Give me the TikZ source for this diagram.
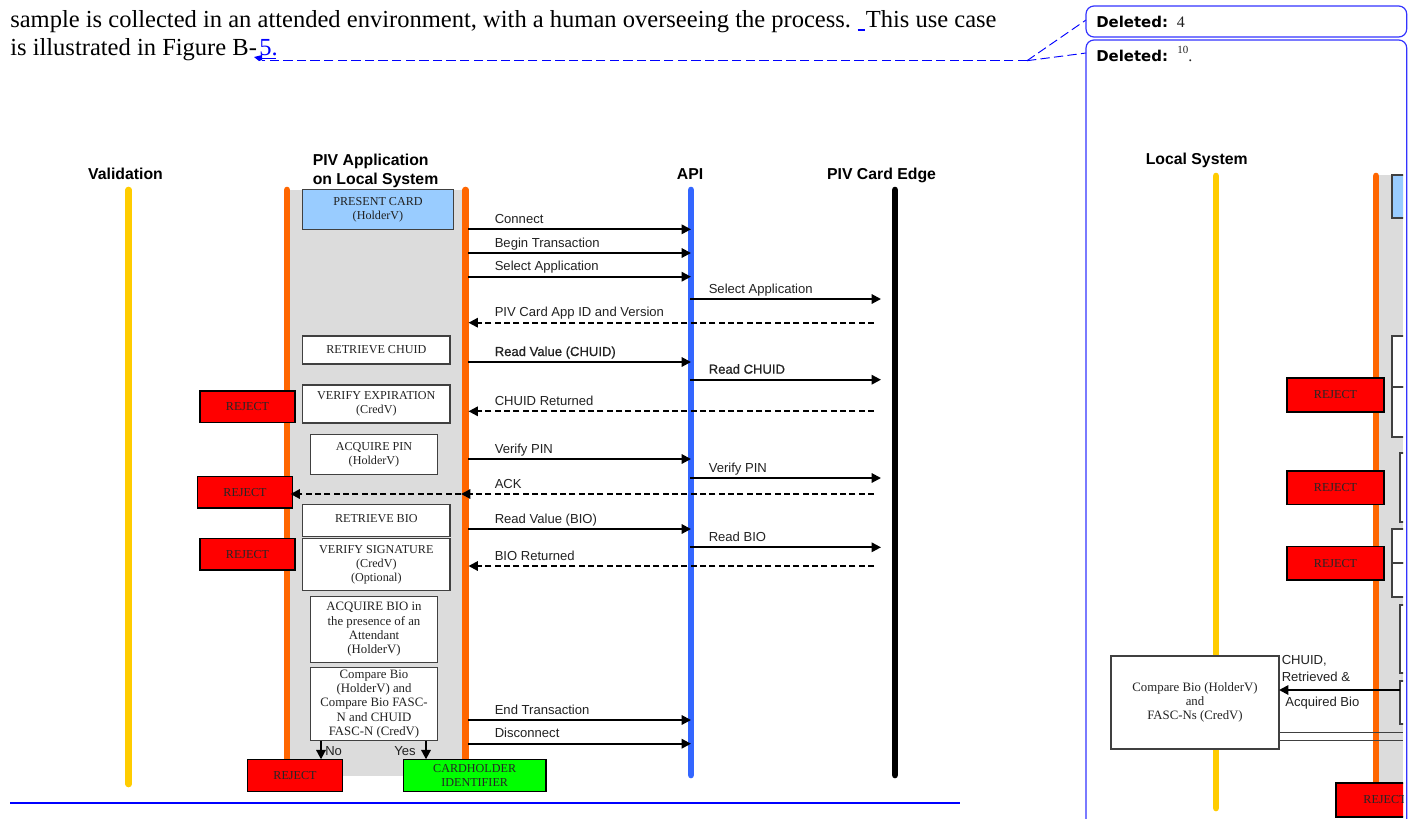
\documentclass[tikz,border=0pt]{standalone}
\usepackage{fontspec}
\setmainfont{Liberation Serif}
\setsansfont{Liberation Sans}
\newfontfamily\dblfont[FakeBold=0.6]{Liberation Sans}
\newfontfamily\delfont{DejaVu Sans}
\usetikzlibrary{arrows.meta}
\definecolor{cgray}{HTML}{DCDCDC}
\definecolor{cyel}{HTML}{FFCC00}
\definecolor{cora}{HTML}{FF6600}
\definecolor{cblu}{HTML}{3366FF}
\definecolor{csky}{HTML}{99CCFF}
\definecolor{cbal}{HTML}{3333FF}
\definecolor{cedge}{HTML}{404040}
\definecolor{cink}{HTML}{222222}
\definecolor{cgrn}{HTML}{00FF00}
\newcommand{\mixedcase}{\fontsize{9.6}{10.8}\selectfont}
\tikzset{
  x=0.75pt,y=-0.75pt,
  lifeline/.style={line width=5pt,line cap=round},
  stepbox/.style={draw=cedge,line width=0.8pt,fill=white,text=cink,align=center,inner sep=0pt,
     font=\fontsize{9.1}{10.7}\selectfont},
  mixedbox/.style={stepbox,font=\mixedcase},
  bluebox/.style={stepbox,fill=csky},
  rejectbox/.style={draw=black,line width=0.8pt,fill=red,text=black!85,align=center,inner sep=0pt,
     font=\fontsize{9.1}{10.7}\selectfont},
  greenbox/.style={rejectbox,fill=cgrn},
  msg/.style={draw=black,line width=1.5pt,-{Triangle[length=7pt,width=7pt]}},
  ret/.style={msg,dash pattern=on 4.6pt off 2.4pt},
  lbl/.style={anchor=base west,inner sep=0pt,text=cink,font=\sffamily\fontsize{9.8}{11}\selectfont},
  head/.style={anchor=base,inner sep=0pt,text=black,align=center,font=\sffamily\bfseries\fontsize{11.85}{14.3}\selectfont},
  body/.style={anchor=base west,inner sep=0pt,text=black,font=\fontsize{18.4}{20}\selectfont},
  balloon/.style={draw=cbal,line width=0.9pt,rounded corners=6pt},
  ballink/.style={draw=blue,line width=0.7pt,dash pattern=on 7pt off 3.2pt},
  deltag/.style={anchor=base west,inner sep=0pt,font=\delfont\bfseries\fontsize{11.2}{13}\selectfont},
  delval/.style={anchor=base west,inner sep=0pt,text=cink,font=\fontsize{12}{14}\selectfont},
}
\newcommand{\boxnode}[7]{%
  \pgfmathsetmacro{\bw}{(#5-#3)*0.75}%
  \pgfmathsetmacro{\bh}{(#6-#4)*0.75}%
  \pgfmathsetmacro{\bx}{(#3+#5)/2}%
  \pgfmathsetmacro{\by}{(#4+#6)/2}%
  \node[#2,minimum width=\bw pt,minimum height=\bh pt] (#1) at (\bx,\by) {#7};}
\newcommand{\seqmsg}[7]{% name style x0 x1 y labelx text
  \coordinate (#1a) at (#3,#5);
  \coordinate (#1b) at (#4,#5);
  \draw[#2] (#1a) -- (#1b);
  \pgfmathsetmacro{\ly}{#5-6}%
  \node[lbl] (#1t) at (#6,\ly) {#7};}
\begin{document}
\begin{tikzpicture}
\useasboundingbox (0,0) rectangle (1408,818);
\fill[white] (0,0) rectangle (1408,818);
% body text
\node[body] (l1) at (10,27) {sample is collected in an attended environment, with a human overseeing the process.};
\node[body] (l1b) at (865.5,27) {This use case};
\node[body] (l2) at (10,55) {is illustrated in Figure B-};
\node[body,text=blue] (five) at (259,55) {5.};
\draw[blue,line width=1pt] (259,58.5) -- (276,58.5);
\draw[blue,line width=1pt] (857.5,30) -- (865,30);
\coordinate (inkA) at (262,60.7);
\coordinate (inkB) at (1027,60.7);
\coordinate (inkC) at (1086,20);
\coordinate (inkD) at (1086,53);
\fill[blue] (254,57) -- (262,55) -- (262,60) -- (259,61) -- cycle;
\draw[ballink] (inkB) -- (inkA);
\draw[ballink] (inkB) -- (inkC);
\draw[ballink] (inkB) -- (inkD);
% balloons
\draw[balloon] (1086,6) rectangle (1406.7,37);
\draw[balloon] (1086,40) -- (1086,840) -- (1406.7,840) -- (1406.7,40) -- cycle;
\node[deltag] (del1) at (1096,27) {Deleted:};
\node[delval] (del1v) at (1176.5,27) {4};
\node[deltag] (del2) at (1096,61) {Deleted:};
\node[delval,font=\fontsize{8.2}{10}\selectfont] (del2v) at (1177,53) {10};
\node[delval] (del2d) at (1188,61) {.};
% main figure
\fill[cgray] (290,190) rectangle (462,776);
\coordinate (yt) at (128.7,190); \coordinate (yb) at (128.7,784);
\coordinate (olt) at (287,190); \coordinate (olb) at (287,770);
\coordinate (ort) at (465.7,190); \coordinate (orb) at (465.7,770);
\coordinate (blt) at (691,190); \coordinate (blb) at (691,775);
\coordinate (bkt) at (895,190); \coordinate (bkb) at (895,775);
\draw[lifeline,cyel] (yt) -- (yb);
\draw[lifeline,cora] (olt) -- (olb);
\draw[lifeline,cora] (ort) -- (orb);
\draw[lifeline,cblu] (blt) -- (blb);
\draw[lifeline,black] (bkt) -- (bkb);
\node[head] (hv) at (125.5,179) {Validation};
\node[head,anchor=base west] (hp1) at (312.5,165) {PIV Application};
\node[head,anchor=base west] (hp2) at (312.5,184) {on Local System};
\node[head] (ha) at (690,179) {API};
\node[head] (hc) at (881.5,179) {PIV Card Edge};
\node[head,anchor=base west] (hl) at (1145.5,164) {Local System};
% step boxes
\boxnode{present}{bluebox}{302.7}{189.5}{453.3}{229.5}{PRESENT CARD\\(HolderV)}
\boxnode{rchuid}{stepbox}{302.7}{336}{450}{364}{\raisebox{1.5pt}{RETRIEVE CHUID}}
\boxnode{vexp}{stepbox}{302.7}{385}{450}{423}{VERIFY EXPIRATION\\(CredV)}
\boxnode{apin}{stepbox}{310.7}{434.7}{437.3}{474.3}{ACQUIRE PIN\\(HolderV)}
\boxnode{rbio}{stepbox}{302.7}{504.7}{450}{536.3}{\raisebox{2.5pt}{RETRIEVE BIO}}
\boxnode{vsig}{stepbox}{302.7}{538.7}{450}{590.7}{VERIFY SIGNATURE\\(CredV)\\(Optional)}
\boxnode{abio}{mixedbox}{310.7}{596.7}{437.3}{662.3}{ACQUIRE BIO in\\the presence of an\\Attendant\\(HolderV)}
\boxnode{cbio}{mixedbox}{310.7}{667.3}{437.3}{740.7}{Compare Bio\\(HolderV) and\\Compare Bio FASC-\\N and CHUID\\FASC-N (CredV)}
\boxnode{rej1}{rejectbox}{200}{391}{295}{422.7}{REJECT}
\boxnode{rej2}{rejectbox}{197.3}{476.7}{292.7}{508}{REJECT}
\boxnode{rej3}{rejectbox}{200}{538.3}{295}{570}{REJECT}
\boxnode{rej4}{rejectbox}{247.3}{759.3}{342.7}{791.7}{REJECT}
\boxnode{chid}{greenbox}{403.3}{759.3}{546}{791.7}{CARDHOLDER\\IDENTIFIER}
% decision arrows
\coordinate (noA) at (321,740.7); \coordinate (noB) at (321,759.3);
\coordinate (yesA) at (426,740.7); \coordinate (yesB) at (426,759.3);
\draw[msg] (noA) -- (noB);
\draw[msg] (yesA) -- (yesB);
\node[lbl] (nol) at (325,755.5) {No};
\node[lbl] (yesl) at (394,755.5) {Yes};
% messages
\seqmsg{m1}{msg}{468}{691}{229.3}{494.5}{Connect}
\seqmsg{m2}{msg}{468}{691}{253}{494.5}{Begin Transaction}
\seqmsg{m3}{msg}{468}{691}{276.7}{494.5}{Select Application}
\seqmsg{m4}{msg}{690}{881}{299}{708.5}{Select Application}
\seqmsg{m5}{ret}{874}{468.5}{322.7}{494.5}{PIV Card App ID and Version}
\seqmsg{m6}{msg}{468}{691}{362}{494.5}{{\dblfont Read Value (CHUID)}}
\seqmsg{m7}{msg}{690}{881}{379.7}{708.5}{{\dblfont Read CHUID}}
\seqmsg{m8}{ret}{874}{468.5}{411.3}{494.5}{CHUID Returned}
\seqmsg{m9}{msg}{468}{691}{459}{494.5}{Verify PIN}
\seqmsg{m10}{msg}{690}{881}{478}{708.5}{Verify PIN}
\seqmsg{m11}{ret}{874}{461}{494}{494.5}{ACK}
\coordinate (ackC) at (290.5,494);
\draw[ret] (m11b) -- (ackC);
\seqmsg{m12}{msg}{468}{691}{529}{494.5}{Read Value (BIO)}
\seqmsg{m13}{msg}{690}{881}{547.3}{708.5}{Read BIO}
\seqmsg{m14}{ret}{874}{468.5}{566}{494.5}{BIO Returned}
\seqmsg{m15}{msg}{468}{691}{720}{494.5}{End Transaction}
\seqmsg{m16}{msg}{468}{691}{743.7}{494.5}{Disconnect}
\draw[blue,line width=1.5pt] (10,802.7) -- (960,802.7);
% right panel figure, cut off at the balloon's inner edge
\begin{scope}
\clip (1088,41) rectangle (1403,818);
\fill[cgray] (1379,175) rectangle (1403,790);
\coordinate (ryt) at (1216,176); \coordinate (ryb) at (1216,808);
\coordinate (rot) at (1376,176); \coordinate (rob) at (1376,790);
\draw[lifeline,cyel] (ryt) -- (ryb);
\draw[lifeline,cora] (rot) -- (rob);
\boxnode{rpres}{bluebox}{1392}{175}{1430}{218}{}
\boxnode{rb1}{stepbox}{1392}{336}{1430}{387}{}
\boxnode{rb2}{stepbox}{1392}{387}{1430}{437}{}
\boxnode{rb3}{stepbox}{1400}{453}{1430}{522}{}
\boxnode{rb4}{stepbox}{1392}{529}{1430}{563}{}
\boxnode{rb5}{stepbox}{1392}{563}{1430}{597}{}
\boxnode{rb6}{stepbox}{1400}{605}{1430}{673}{}
\boxnode{rb7}{stepbox}{1400}{681}{1430}{724}{}
\boxnode{rr1}{rejectbox}{1287}{378}{1384}{412}{REJECT}
\boxnode{rr2}{rejectbox}{1287}{471}{1384}{504.5}{REJECT}
\boxnode{rr3}{rejectbox}{1287}{546.5}{1384}{580}{REJECT}
\boxnode{rr4}{rejectbox}{1336}{783}{1434}{817}{REJECT}
\boxnode{rcmp}{mixedbox}{1111}{656}{1279}{749}{Compare Bio (HolderV)\\and\\FASC-Ns (CredV)}
\coordinate (ra) at (1400,690); \coordinate (rc) at (1279,690);
\draw[msg] (ra) -- (rc);
\coordinate (t1a) at (1279,732.3); \coordinate (t1b) at (1403,732.3);
\coordinate (t2a) at (1279,740.7); \coordinate (t2b) at (1403,740.7);
\draw[cedge,line width=0.75pt] (t1a) -- (t1b);
\draw[cedge,line width=0.75pt] (t2a) -- (t2b);
\node[lbl] (rt1) at (1281.5,664.5) {CHUID,};
\node[lbl] (rt2) at (1281.5,681.5) {Retrieved \&};
\node[lbl] (rt3) at (1285,706.5) {Acquired Bio};
\end{scope}
\end{tikzpicture}
\end{document}
